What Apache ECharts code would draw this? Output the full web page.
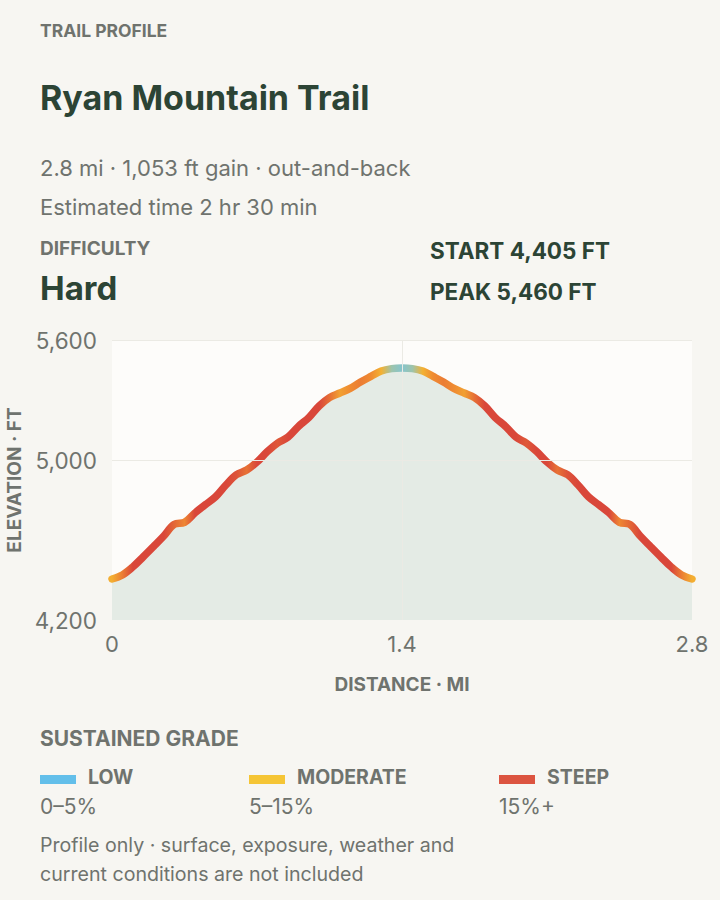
<!DOCTYPE html>
<html>
<head>
<meta charset="utf-8">
<script src="https://cdn.jsdelivr.net/npm/echarts@6/dist/echarts.min.js"></script>
<style>
  html, body { margin: 0; padding: 0; background: #f7f6f2; }
  #chart { width: 720px; height: 900px; }
</style>
</head>
<body>
<div id="chart"></div>
<script>
// ---------- DATA ----------
const distanceMi = [0, 0.05, 0.1, 0.15, 0.2, 0.25, 0.3, 0.35, 0.4, 0.45, 0.5, 0.55, 0.6, 0.65, 0.7,
  0.75, 0.8, 0.85, 0.9, 0.95, 1.0, 1.05, 1.1, 1.15, 1.2, 1.25, 1.3, 1.35, 1.4,
  1.45, 1.5, 1.55, 1.6, 1.65, 1.7, 1.75, 1.8, 1.85, 1.9, 1.95, 2.0, 2.05, 2.1,
  2.15, 2.2, 2.25, 2.3, 2.35, 2.4, 2.45, 2.5, 2.55, 2.6, 2.65, 2.7, 2.75, 2.8];
const elevationFt = [4405, 4425, 4465, 4515, 4567, 4620, 4678, 4688, 4735, 4776, 4816, 4875, 4926, 4950, 4990,
  5042, 5085, 5115, 5168, 5212, 5270, 5312, 5335, 5358, 5390, 5418, 5445, 5457, 5460,
  5457, 5445, 5418, 5390, 5358, 5335, 5312, 5270, 5212, 5168, 5115, 5085, 5042, 4990,
  4950, 4926, 4875, 4816, 4776, 4735, 4688, 4678, 4620, 4567, 4515, 4465, 4425, 4405];
const yTickLabels = [4200, 5000, 5600];
const xTickLabels = [0, 1.4, 2.8];
const gradeNames = ['LOW', 'MODERATE', 'STEEP'];
const gradeRanges = ['0–5%', '5–15%', '15%+'];

// ---------- STYLE ----------
const FONT = 'Inter, "Noto Sans", sans-serif';
const DARK = '#2c4435';
const GREY = '#6f736e';
const swatchColors = ['#63bfea', '#f5c535', '#dc5440'];
const legendX = [40, 249, 499];
// grade (%) -> line colour stops
const gradeStops = [
  [2, [134, 196, 204]],
  [6, [245, 194, 50]],
  [10.5, [239, 138, 50]],
  [15, [217, 71, 58]]
];
function gradeColor(g) {
  if (g <= gradeStops[0][0]) return 'rgb(' + gradeStops[0][1].join(',') + ')';
  for (let i = 1; i < gradeStops.length; i++) {
    if (g <= gradeStops[i][0]) {
      const [g0, c0] = gradeStops[i - 1], [g1, c1] = gradeStops[i];
      const t = (g - g0) / (g1 - g0);
      return 'rgb(' + c0.map((v, k) => Math.round(v + (c1[k] - v) * t)).join(',') + ')';
    }
  }
  return 'rgb(' + gradeStops[gradeStops.length - 1][1].join(',') + ')';
}
const n = distanceMi.length;
const total = distanceMi[n - 1];
const colorStops = distanceMi.map((d, i) => {
  const a = Math.max(0, i - 1), b = Math.min(n - 1, i + 1);
  const g = Math.abs(elevationFt[b] - elevationFt[a]) / ((distanceMi[b] - distanceMi[a]) * 5280) * 100;
  return { offset: d / total, color: gradeColor(g) };
});
const points = distanceMi.map((d, i) => [d, elevationFt[i]]);

function txt(x, y, text, size, weight, color) {
  return { type: 'text', left: x, top: y - size * 0.5, silent: true,
    style: { text, fontSize: size, fontWeight: weight, fill: color, fontFamily: FONT } };
}

const graphics = [
  txt(40, 30, 'TRAIL PROFILE', 17.5, 'bold', GREY),
  txt(40, 97, 'Ryan Mountain Trail', 34, 'bold', DARK),
  txt(40, 168, '2.8 mi · 1,053 ft gain · out-and-back', 22, 'normal', GREY),
  txt(40, 207, 'Estimated time 2 hr 30 min', 22, 'normal', GREY),
  txt(40, 248, 'DIFFICULTY', 19, 'bold', GREY),
  txt(40, 288, 'Hard', 33, 'bold', DARK),
  txt(430, 250, 'START 4,405 FT', 22.5, 'bold', DARK),
  txt(430, 291, 'PEAK 5,460 FT', 22.5, 'bold', DARK),
  txt(40, 738, 'SUSTAINED GRADE', 21, 'bold', GREY),
  txt(40, 845, 'Profile only · surface, exposure, weather and', 19.6, 'normal', GREY),
  txt(40, 874, 'current conditions are not included', 19.6, 'normal', GREY)
];
gradeNames.forEach((name, i) => {
  graphics.push({ type: 'rect', silent: true, shape: { x: legendX[i], y: 775, width: 36, height: 9 },
    style: { fill: swatchColors[i] } });
  graphics.push(txt(legendX[i] + 48, 777, name, 19.5, 'bold', GREY));
  graphics.push(txt(legendX[i], 806, gradeRanges[i], 21, 'normal', GREY));
});

const chart = echarts.init(document.getElementById('chart'), null, { renderer: 'svg' });
chart.setOption({
  animation: false,
  backgroundColor: '#f7f6f2',
  grid: { left: 112, top: 340, width: 580, height: 280, show: true, outerBoundsMode: 'none',
    containLabel: false, backgroundColor: '#fdfcfa', borderWidth: 0 },
  xAxis: {
    type: 'value', min: 0, max: 2.8, interval: 1.4,
    axisLine: { show: false }, axisTick: { show: false }, splitLine: { show: false },
    axisLabel: { color: GREY, fontSize: 22, fontFamily: FONT, margin: 13,
      formatter: v => xTickLabels.some(t => Math.abs(t - v) < 1e-6) ? String(v) : '' },
    name: 'DISTANCE · MI', nameLocation: 'middle', nameGap: 55,
    nameTextStyle: { color: GREY, fontSize: 19, fontWeight: 'bold', fontFamily: FONT }
  },
  yAxis: {
    type: 'value', min: 4200, max: 5600, interval: 200,
    axisLine: { show: false }, axisTick: { show: false }, splitLine: { show: false },
    axisLabel: { color: GREY, fontSize: 22.5, fontFamily: FONT, margin: 15,
      formatter: v => yTickLabels.includes(v) ? v.toLocaleString('en-US') : '' },
    name: 'ELEVATION · FT', nameLocation: 'middle', nameGap: 82, nameRotate: 90,
    nameTextStyle: { color: GREY, fontSize: 19, fontWeight: 'bold', fontFamily: FONT }
  },
  graphic: graphics,
  series: [
    {
      type: 'line', data: points, z: 1, showSymbol: false, silent: true,
      lineStyle: { opacity: 0 },
      markLine: {
        silent: true, symbol: 'none', label: { show: false },
        lineStyle: { color: '#ebeae4', width: 1, type: 'solid' },
        data: [{ yAxis: 5000 }, { yAxis: 5600 }, { xAxis: 1.4 }]
      }
    },
    {
      type: 'line', data: points, z: 2, showSymbol: false, smooth: 0.35, silent: true,
      lineStyle: {
        width: 7.5, cap: 'round', join: 'round',
        color: { type: 'linear', x: 0, y: 0, x2: 1, y2: 0, colorStops: colorStops }
      },
      areaStyle: { color: '#e4ebe5', opacity: 1, origin: 'start' }
    }
  ]
});
</script>
</body>
</html>
